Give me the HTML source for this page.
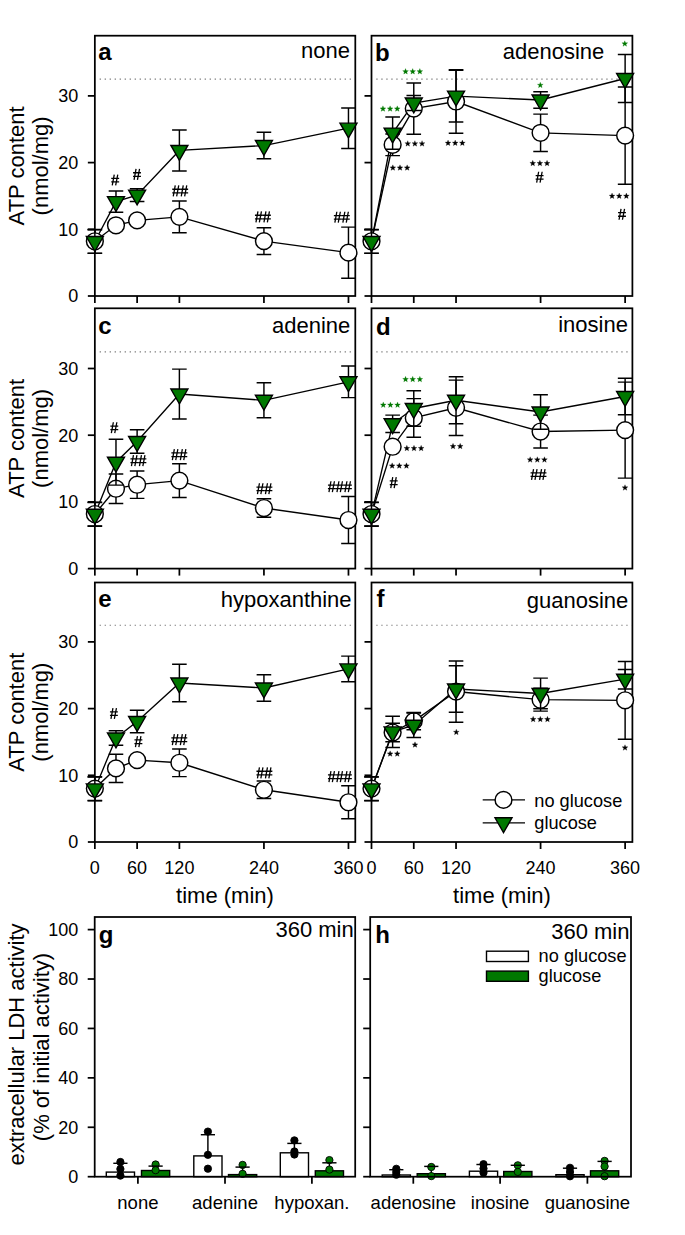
<!DOCTYPE html><html><head><meta charset="utf-8"><style>html,body{margin:0;padding:0;background:#fff;}svg{display:block;}text{font-family:"Liberation Sans", sans-serif;}</style></head><body>
<svg width="685" height="1235" viewBox="0 0 685 1235">
<rect width="685" height="1235" fill="#fff"/>
<line x1="99.65" y1="79.22" x2="354.30" y2="79.22" stroke="#7a7a7a" stroke-width="1.2" stroke-dasharray="1.3 3.7"/>
<rect x="94.85" y="35.70" width="260.45" height="260.30" fill="none" stroke="#000" stroke-width="1.75"/>
<line x1="87.85" y1="296.00" x2="94.85" y2="296.00" stroke="#000" stroke-width="1.75"/>
<text x="78.35" y="302.30" font-size="18" text-anchor="end" font-weight="normal" fill="#000" >0</text>
<line x1="87.85" y1="229.30" x2="94.85" y2="229.30" stroke="#000" stroke-width="1.75"/>
<text x="78.35" y="235.60" font-size="18" text-anchor="end" font-weight="normal" fill="#000" >10</text>
<line x1="87.85" y1="162.60" x2="94.85" y2="162.60" stroke="#000" stroke-width="1.75"/>
<text x="78.35" y="168.90" font-size="18" text-anchor="end" font-weight="normal" fill="#000" >20</text>
<line x1="87.85" y1="95.90" x2="94.85" y2="95.90" stroke="#000" stroke-width="1.75"/>
<text x="78.35" y="102.20" font-size="18" text-anchor="end" font-weight="normal" fill="#000" >30</text>
<line x1="94.85" y1="296.00" x2="94.85" y2="303.00" stroke="#000" stroke-width="1.75"/>
<line x1="137.12" y1="296.00" x2="137.12" y2="303.00" stroke="#000" stroke-width="1.75"/>
<line x1="179.39" y1="296.00" x2="179.39" y2="303.00" stroke="#000" stroke-width="1.75"/>
<line x1="263.93" y1="296.00" x2="263.93" y2="303.00" stroke="#000" stroke-width="1.75"/>
<line x1="348.47" y1="296.00" x2="348.47" y2="303.00" stroke="#000" stroke-width="1.75"/>
<path d="M94.85 241.25 L115.98 225.30 L137.12 220.40 L179.39 216.85 L263.93 241.10 L348.47 252.65" stroke="#000" stroke-width="1.35" fill="none"/>
<path d="M94.85 241.50 L115.98 201.65 L137.12 195.10 L179.39 150.45 L263.93 145.55 L348.47 128.15" stroke="#000" stroke-width="1.35" fill="none"/>
<path d="M94.85 229.40V253.10M87.55 229.40H102.15M87.55 253.10H102.15" stroke="#000" stroke-width="1.45" fill="none"/>
<path d="M179.39 200.90V232.80M172.09 200.90H186.69M172.09 232.80H186.69" stroke="#000" stroke-width="1.45" fill="none"/>
<path d="M263.93 227.80V254.40M256.63 227.80H271.23M256.63 254.40H271.23" stroke="#000" stroke-width="1.45" fill="none"/>
<path d="M348.47 227.10V278.20M341.17 227.10H355.77M341.17 278.20H355.77" stroke="#000" stroke-width="1.45" fill="none"/>
<circle cx="94.85" cy="241.25" r="8.4" fill="#fff" stroke="#000" stroke-width="1.45"/>
<circle cx="115.98" cy="225.30" r="8.4" fill="#fff" stroke="#000" stroke-width="1.45"/>
<circle cx="137.12" cy="220.40" r="8.4" fill="#fff" stroke="#000" stroke-width="1.45"/>
<circle cx="179.39" cy="216.85" r="8.4" fill="#fff" stroke="#000" stroke-width="1.45"/>
<circle cx="263.93" cy="241.10" r="8.4" fill="#fff" stroke="#000" stroke-width="1.45"/>
<circle cx="348.47" cy="252.65" r="8.4" fill="#fff" stroke="#000" stroke-width="1.45"/>
<path d="M94.85 229.65V253.35M87.55 229.65H102.15M87.55 253.35H102.15" stroke="#000" stroke-width="1.45" fill="none"/>
<path d="M115.98 191.00V212.30M108.69 191.00H123.28M108.69 212.30H123.28" stroke="#000" stroke-width="1.45" fill="none"/>
<path d="M137.12 188.80V201.40M129.82 188.80H144.42M129.82 201.40H144.42" stroke="#000" stroke-width="1.45" fill="none"/>
<path d="M179.39 130.00V170.90M172.09 130.00H186.69M172.09 170.90H186.69" stroke="#000" stroke-width="1.45" fill="none"/>
<path d="M263.93 132.30V158.80M256.63 132.30H271.23M256.63 158.80H271.23" stroke="#000" stroke-width="1.45" fill="none"/>
<path d="M348.47 107.90V148.40M341.17 107.90H355.77M341.17 148.40H355.77" stroke="#000" stroke-width="1.45" fill="none"/>
<path d="M86.35 236.50H103.35L94.85 251.30Z" fill="#007800" stroke="#000" stroke-width="1.4" stroke-linejoin="miter"/>
<path d="M107.48 196.65H124.48L115.98 211.45Z" fill="#007800" stroke="#000" stroke-width="1.4" stroke-linejoin="miter"/>
<path d="M128.62 190.10H145.62L137.12 204.90Z" fill="#007800" stroke="#000" stroke-width="1.4" stroke-linejoin="miter"/>
<path d="M170.89 145.45H187.89L179.39 160.25Z" fill="#007800" stroke="#000" stroke-width="1.4" stroke-linejoin="miter"/>
<path d="M255.43 140.55H272.43L263.93 155.35Z" fill="#007800" stroke="#000" stroke-width="1.4" stroke-linejoin="miter"/>
<path d="M339.97 123.15H356.97L348.47 137.95Z" fill="#007800" stroke="#000" stroke-width="1.4" stroke-linejoin="miter"/>
<text x="98.35" y="59.50" font-size="24" text-anchor="start" font-weight="bold" fill="#000" >a</text>
<text x="349.90" y="58.40" font-size="22" text-anchor="end" font-weight="normal" fill="#000" >none</text>
<path d="M111.25 178.35H119.15M111.25 181.95H119.15M114.25 174.55L112.25 185.45M117.75 174.55L115.65 185.45" stroke="#000" stroke-width="1.3" fill="none"/>
<path d="M133.05 172.75H140.95M133.05 176.35H140.95M136.05 168.95L134.05 179.85M139.55 168.95L137.45 179.85" stroke="#000" stroke-width="1.3" fill="none"/>
<path d="M172.25 189.25H180.15M172.25 192.85H180.15M175.25 185.45L173.25 196.35M178.75 185.45L176.65 196.35M180.25 189.25H188.15M180.25 192.85H188.15M183.25 185.45L181.25 196.35M186.75 185.45L184.65 196.35" stroke="#000" stroke-width="1.3" fill="none"/>
<path d="M254.95 215.25H262.85M254.95 218.85H262.85M257.95 211.45L255.95 222.35M261.45 211.45L259.35 222.35M262.95 215.25H270.85M262.95 218.85H270.85M265.95 211.45L263.95 222.35M269.45 211.45L267.35 222.35" stroke="#000" stroke-width="1.3" fill="none"/>
<path d="M333.85 215.55H341.75M333.85 219.15H341.75M336.85 211.75L334.85 222.65M340.35 211.75L338.25 222.65M341.85 215.55H349.75M341.85 219.15H349.75M344.85 211.75L342.85 222.65M348.35 211.75L346.25 222.65" stroke="#000" stroke-width="1.3" fill="none"/>
<line x1="376.30" y1="79.22" x2="631.40" y2="79.22" stroke="#7a7a7a" stroke-width="1.2" stroke-dasharray="1.3 3.7"/>
<rect x="371.50" y="35.70" width="260.90" height="260.30" fill="none" stroke="#000" stroke-width="1.75"/>
<line x1="364.50" y1="296.00" x2="371.50" y2="296.00" stroke="#000" stroke-width="1.75"/>
<line x1="364.50" y1="229.30" x2="371.50" y2="229.30" stroke="#000" stroke-width="1.75"/>
<line x1="364.50" y1="162.60" x2="371.50" y2="162.60" stroke="#000" stroke-width="1.75"/>
<line x1="364.50" y1="95.90" x2="371.50" y2="95.90" stroke="#000" stroke-width="1.75"/>
<line x1="371.50" y1="296.00" x2="371.50" y2="303.00" stroke="#000" stroke-width="1.75"/>
<line x1="413.77" y1="296.00" x2="413.77" y2="303.00" stroke="#000" stroke-width="1.75"/>
<line x1="456.04" y1="296.00" x2="456.04" y2="303.00" stroke="#000" stroke-width="1.75"/>
<line x1="540.58" y1="296.00" x2="540.58" y2="303.00" stroke="#000" stroke-width="1.75"/>
<line x1="625.12" y1="296.00" x2="625.12" y2="303.00" stroke="#000" stroke-width="1.75"/>
<path d="M371.50 241.25 L392.63 144.80 L413.77 108.60 L456.04 101.50 L540.58 132.80 L625.12 135.60" stroke="#000" stroke-width="1.35" fill="none"/>
<path d="M371.50 241.50 L392.63 133.10 L413.77 103.00 L456.04 96.10 L540.58 100.00 L625.12 78.50" stroke="#000" stroke-width="1.35" fill="none"/>
<path d="M371.50 229.40V253.10M364.20 229.40H378.80M364.20 253.10H378.80" stroke="#000" stroke-width="1.45" fill="none"/>
<path d="M392.63 134.00V155.60M385.33 134.00H399.94M385.33 155.60H399.94" stroke="#000" stroke-width="1.45" fill="none"/>
<path d="M413.77 83.00V134.20M406.47 83.00H421.07M406.47 134.20H421.07" stroke="#000" stroke-width="1.45" fill="none"/>
<path d="M456.04 69.70V133.30M448.74 69.70H463.34M448.74 133.30H463.34" stroke="#000" stroke-width="1.45" fill="none"/>
<path d="M540.58 114.10V151.50M533.28 114.10H547.88M533.28 151.50H547.88" stroke="#000" stroke-width="1.45" fill="none"/>
<path d="M625.12 87.00V184.20M617.82 87.00H632.42M617.82 184.20H632.42" stroke="#000" stroke-width="1.45" fill="none"/>
<circle cx="371.50" cy="241.25" r="8.4" fill="#fff" stroke="#000" stroke-width="1.45"/>
<circle cx="392.63" cy="144.80" r="8.4" fill="#fff" stroke="#000" stroke-width="1.45"/>
<circle cx="413.77" cy="108.60" r="8.4" fill="#fff" stroke="#000" stroke-width="1.45"/>
<circle cx="456.04" cy="101.50" r="8.4" fill="#fff" stroke="#000" stroke-width="1.45"/>
<circle cx="540.58" cy="132.80" r="8.4" fill="#fff" stroke="#000" stroke-width="1.45"/>
<circle cx="625.12" cy="135.60" r="8.4" fill="#fff" stroke="#000" stroke-width="1.45"/>
<path d="M371.50 229.65V253.35M364.20 229.65H378.80M364.20 253.35H378.80" stroke="#000" stroke-width="1.45" fill="none"/>
<path d="M392.63 117.00V149.20M385.33 117.00H399.94M385.33 149.20H399.94" stroke="#000" stroke-width="1.45" fill="none"/>
<path d="M413.77 95.50V110.50M406.47 95.50H421.07M406.47 110.50H421.07" stroke="#000" stroke-width="1.45" fill="none"/>
<path d="M456.04 70.30V121.90M448.74 70.30H463.34M448.74 121.90H463.34" stroke="#000" stroke-width="1.45" fill="none"/>
<path d="M540.58 91.80V108.20M533.28 91.80H547.88M533.28 108.20H547.88" stroke="#000" stroke-width="1.45" fill="none"/>
<path d="M625.12 54.50V102.50M617.82 54.50H632.42M617.82 102.50H632.42" stroke="#000" stroke-width="1.45" fill="none"/>
<path d="M363.00 236.50H380.00L371.50 251.30Z" fill="#007800" stroke="#000" stroke-width="1.4" stroke-linejoin="miter"/>
<path d="M384.13 128.10H401.13L392.63 142.90Z" fill="#007800" stroke="#000" stroke-width="1.4" stroke-linejoin="miter"/>
<path d="M405.27 98.00H422.27L413.77 112.80Z" fill="#007800" stroke="#000" stroke-width="1.4" stroke-linejoin="miter"/>
<path d="M447.54 91.10H464.54L456.04 105.90Z" fill="#007800" stroke="#000" stroke-width="1.4" stroke-linejoin="miter"/>
<path d="M532.08 95.00H549.08L540.58 109.80Z" fill="#007800" stroke="#000" stroke-width="1.4" stroke-linejoin="miter"/>
<path d="M616.62 73.50H633.62L625.12 88.30Z" fill="#007800" stroke="#000" stroke-width="1.4" stroke-linejoin="miter"/>
<text x="375.00" y="61.20" font-size="24" text-anchor="start" font-weight="bold" fill="#000" >b</text>
<text x="604.30" y="58.50" font-size="22" text-anchor="end" font-weight="normal" fill="#000" >adenosine</text>
<path d="M382.95 105.85L383.71 107.85L385.85 107.96L384.19 109.30L384.74 111.37L382.95 110.20L381.16 111.37L381.71 109.30L380.05 107.96L382.19 107.85ZM390.10 105.85L390.86 107.85L393.00 107.96L391.34 109.30L391.89 111.37L390.10 110.20L388.31 111.37L388.86 109.30L387.20 107.96L389.34 107.85ZM397.25 105.85L398.01 107.85L400.15 107.96L398.49 109.30L399.04 111.37L397.25 110.20L395.46 111.37L396.01 109.30L394.35 107.96L396.49 107.85Z" fill="#007800" stroke="#007800" stroke-width="0.25" stroke-linejoin="round"/>
<path d="M392.85 164.85L393.61 166.85L395.75 166.96L394.09 168.30L394.64 170.37L392.85 169.20L391.06 170.37L391.61 168.30L389.95 166.96L392.09 166.85ZM400.00 164.85L400.76 166.85L402.90 166.96L401.24 168.30L401.79 170.37L400.00 169.20L398.21 170.37L398.76 168.30L397.10 166.96L399.24 166.85ZM407.15 164.85L407.91 166.85L410.05 166.96L408.39 168.30L408.94 170.37L407.15 169.20L405.36 170.37L405.91 168.30L404.25 166.96L406.39 166.85Z" fill="#000" stroke="#000" stroke-width="0.25" stroke-linejoin="round"/>
<path d="M405.55 68.55L406.31 70.55L408.45 70.66L406.79 72.00L407.34 74.07L405.55 72.90L403.76 74.07L404.31 72.00L402.65 70.66L404.79 70.55ZM412.70 68.55L413.46 70.55L415.60 70.66L413.94 72.00L414.49 74.07L412.70 72.90L410.91 74.07L411.46 72.00L409.80 70.66L411.94 70.55ZM419.85 68.55L420.61 70.55L422.75 70.66L421.09 72.00L421.64 74.07L419.85 72.90L418.06 74.07L418.61 72.00L416.95 70.66L419.09 70.55Z" fill="#007800" stroke="#007800" stroke-width="0.25" stroke-linejoin="round"/>
<path d="M407.75 140.65L408.51 142.65L410.65 142.76L408.99 144.10L409.54 146.17L407.75 145.00L405.96 146.17L406.51 144.10L404.85 142.76L406.99 142.65ZM414.90 140.65L415.66 142.65L417.80 142.76L416.14 144.10L416.69 146.17L414.90 145.00L413.11 146.17L413.66 144.10L412.00 142.76L414.14 142.65ZM422.05 140.65L422.81 142.65L424.95 142.76L423.29 144.10L423.84 146.17L422.05 145.00L420.26 146.17L420.81 144.10L419.15 142.76L421.29 142.65Z" fill="#000" stroke="#000" stroke-width="0.25" stroke-linejoin="round"/>
<path d="M448.05 140.05L448.81 142.05L450.95 142.16L449.29 143.50L449.84 145.57L448.05 144.40L446.26 145.57L446.81 143.50L445.15 142.16L447.29 142.05ZM455.20 140.05L455.96 142.05L458.10 142.16L456.44 143.50L456.99 145.57L455.20 144.40L453.41 145.57L453.96 143.50L452.30 142.16L454.44 142.05ZM462.35 140.05L463.11 142.05L465.25 142.16L463.59 143.50L464.14 145.57L462.35 144.40L460.56 145.57L461.11 143.50L459.45 142.16L461.59 142.05Z" fill="#000" stroke="#000" stroke-width="0.25" stroke-linejoin="round"/>
<path d="M540.30 82.15L541.06 84.15L543.20 84.26L541.54 85.60L542.09 87.67L540.30 86.50L538.51 87.67L539.06 85.60L537.40 84.26L539.54 84.15Z" fill="#007800" stroke="#007800" stroke-width="0.25" stroke-linejoin="round"/>
<path d="M532.75 160.35L533.51 162.35L535.65 162.46L533.99 163.80L534.54 165.87L532.75 164.70L530.96 165.87L531.51 163.80L529.85 162.46L531.99 162.35ZM539.90 160.35L540.66 162.35L542.80 162.46L541.14 163.80L541.69 165.87L539.90 164.70L538.11 165.87L538.66 163.80L537.00 162.46L539.14 162.35ZM547.05 160.35L547.81 162.35L549.95 162.46L548.29 163.80L548.84 165.87L547.05 164.70L545.26 165.87L545.81 163.80L544.15 162.46L546.29 162.35Z" fill="#000" stroke="#000" stroke-width="0.25" stroke-linejoin="round"/>
<path d="M535.65 175.55H543.55M535.65 179.15H543.55M538.65 171.75L536.65 182.65M542.15 171.75L540.05 182.65" stroke="#000" stroke-width="1.3" fill="none"/>
<path d="M624.80 40.75L625.56 42.75L627.70 42.86L626.04 44.20L626.59 46.27L624.80 45.10L623.01 46.27L623.56 44.20L621.90 42.86L624.04 42.75Z" fill="#007800" stroke="#007800" stroke-width="0.25" stroke-linejoin="round"/>
<path d="M612.05 193.05L612.81 195.05L614.95 195.16L613.29 196.50L613.84 198.57L612.05 197.40L610.26 198.57L610.81 196.50L609.15 195.16L611.29 195.05ZM619.20 193.05L619.96 195.05L622.10 195.16L620.44 196.50L620.99 198.57L619.20 197.40L617.41 198.57L617.96 196.50L616.30 195.16L618.44 195.05ZM626.35 193.05L627.11 195.05L629.25 195.16L627.59 196.50L628.14 198.57L626.35 197.40L624.56 198.57L625.11 196.50L623.45 195.16L625.59 195.05Z" fill="#000" stroke="#000" stroke-width="0.25" stroke-linejoin="round"/>
<path d="M618.05 212.65H625.95M618.05 216.25H625.95M621.05 208.85L619.05 219.75M624.55 208.85L622.45 219.75" stroke="#000" stroke-width="1.3" fill="none"/>
<line x1="99.65" y1="351.83" x2="354.30" y2="351.83" stroke="#7a7a7a" stroke-width="1.2" stroke-dasharray="1.3 3.7"/>
<rect x="94.85" y="308.30" width="260.45" height="260.30" fill="none" stroke="#000" stroke-width="1.75"/>
<line x1="87.85" y1="568.60" x2="94.85" y2="568.60" stroke="#000" stroke-width="1.75"/>
<text x="78.35" y="574.90" font-size="18" text-anchor="end" font-weight="normal" fill="#000" >0</text>
<line x1="87.85" y1="501.90" x2="94.85" y2="501.90" stroke="#000" stroke-width="1.75"/>
<text x="78.35" y="508.20" font-size="18" text-anchor="end" font-weight="normal" fill="#000" >10</text>
<line x1="87.85" y1="435.20" x2="94.85" y2="435.20" stroke="#000" stroke-width="1.75"/>
<text x="78.35" y="441.50" font-size="18" text-anchor="end" font-weight="normal" fill="#000" >20</text>
<line x1="87.85" y1="368.50" x2="94.85" y2="368.50" stroke="#000" stroke-width="1.75"/>
<text x="78.35" y="374.80" font-size="18" text-anchor="end" font-weight="normal" fill="#000" >30</text>
<line x1="94.85" y1="568.60" x2="94.85" y2="575.60" stroke="#000" stroke-width="1.75"/>
<line x1="137.12" y1="568.60" x2="137.12" y2="575.60" stroke="#000" stroke-width="1.75"/>
<line x1="179.39" y1="568.60" x2="179.39" y2="575.60" stroke="#000" stroke-width="1.75"/>
<line x1="263.93" y1="568.60" x2="263.93" y2="575.60" stroke="#000" stroke-width="1.75"/>
<line x1="348.47" y1="568.60" x2="348.47" y2="575.60" stroke="#000" stroke-width="1.75"/>
<path d="M94.85 514.00 L115.98 488.70 L137.12 484.70 L179.39 480.60 L263.93 508.00 L348.47 520.00" stroke="#000" stroke-width="1.35" fill="none"/>
<path d="M94.85 514.30 L115.98 462.20 L137.12 441.50 L179.39 394.00 L263.93 400.30 L348.47 381.80" stroke="#000" stroke-width="1.35" fill="none"/>
<path d="M94.85 502.15V525.85M87.55 502.15H102.15M87.55 525.85H102.15" stroke="#000" stroke-width="1.45" fill="none"/>
<path d="M115.98 474.00V503.40M108.69 474.00H123.28M108.69 503.40H123.28" stroke="#000" stroke-width="1.45" fill="none"/>
<path d="M137.12 471.05V498.35M129.82 471.05H144.42M129.82 498.35H144.42" stroke="#000" stroke-width="1.45" fill="none"/>
<path d="M179.39 463.75V497.45M172.09 463.75H186.69M172.09 497.45H186.69" stroke="#000" stroke-width="1.45" fill="none"/>
<path d="M263.93 498.75V517.25M256.63 498.75H271.23M256.63 517.25H271.23" stroke="#000" stroke-width="1.45" fill="none"/>
<path d="M348.47 496.50V543.50M341.17 496.50H355.77M341.17 543.50H355.77" stroke="#000" stroke-width="1.45" fill="none"/>
<circle cx="94.85" cy="514.00" r="8.4" fill="#fff" stroke="#000" stroke-width="1.45"/>
<circle cx="115.98" cy="488.70" r="8.4" fill="#fff" stroke="#000" stroke-width="1.45"/>
<circle cx="137.12" cy="484.70" r="8.4" fill="#fff" stroke="#000" stroke-width="1.45"/>
<circle cx="179.39" cy="480.60" r="8.4" fill="#fff" stroke="#000" stroke-width="1.45"/>
<circle cx="263.93" cy="508.00" r="8.4" fill="#fff" stroke="#000" stroke-width="1.45"/>
<circle cx="348.47" cy="520.00" r="8.4" fill="#fff" stroke="#000" stroke-width="1.45"/>
<path d="M94.85 502.45V526.15M87.55 502.45H102.15M87.55 526.15H102.15" stroke="#000" stroke-width="1.45" fill="none"/>
<path d="M115.98 439.30V485.10M108.69 439.30H123.28M108.69 485.10H123.28" stroke="#000" stroke-width="1.45" fill="none"/>
<path d="M137.12 429.70V453.30M129.82 429.70H144.42M129.82 453.30H144.42" stroke="#000" stroke-width="1.45" fill="none"/>
<path d="M179.39 369.10V418.90M172.09 369.10H186.69M172.09 418.90H186.69" stroke="#000" stroke-width="1.45" fill="none"/>
<path d="M263.93 382.80V417.80M256.63 382.80H271.23M256.63 417.80H271.23" stroke="#000" stroke-width="1.45" fill="none"/>
<path d="M348.47 366.00V397.60M341.17 366.00H355.77M341.17 397.60H355.77" stroke="#000" stroke-width="1.45" fill="none"/>
<path d="M86.35 509.30H103.35L94.85 524.10Z" fill="#007800" stroke="#000" stroke-width="1.4" stroke-linejoin="miter"/>
<path d="M107.48 457.20H124.48L115.98 472.00Z" fill="#007800" stroke="#000" stroke-width="1.4" stroke-linejoin="miter"/>
<path d="M128.62 436.50H145.62L137.12 451.30Z" fill="#007800" stroke="#000" stroke-width="1.4" stroke-linejoin="miter"/>
<path d="M170.89 389.00H187.89L179.39 403.80Z" fill="#007800" stroke="#000" stroke-width="1.4" stroke-linejoin="miter"/>
<path d="M255.43 395.30H272.43L263.93 410.10Z" fill="#007800" stroke="#000" stroke-width="1.4" stroke-linejoin="miter"/>
<path d="M339.97 376.80H356.97L348.47 391.60Z" fill="#007800" stroke="#000" stroke-width="1.4" stroke-linejoin="miter"/>
<text x="98.35" y="334.00" font-size="24" text-anchor="start" font-weight="bold" fill="#000" >c</text>
<text x="350.30" y="333.40" font-size="22" text-anchor="end" font-weight="normal" fill="#000" >adenine</text>
<path d="M110.35 426.05H118.25M110.35 429.65H118.25M113.35 422.25L111.35 433.15M116.85 422.25L114.75 433.15" stroke="#000" stroke-width="1.3" fill="none"/>
<path d="M130.45 458.95H138.35M130.45 462.55H138.35M133.45 455.15L131.45 466.05M136.95 455.15L134.85 466.05M138.45 458.95H146.35M138.45 462.55H146.35M141.45 455.15L139.45 466.05M144.95 455.15L142.85 466.05" stroke="#000" stroke-width="1.3" fill="none"/>
<path d="M171.35 452.95H179.25M171.35 456.55H179.25M174.35 449.15L172.35 460.05M177.85 449.15L175.75 460.05M179.35 452.95H187.25M179.35 456.55H187.25M182.35 449.15L180.35 460.05M185.85 449.15L183.75 460.05" stroke="#000" stroke-width="1.3" fill="none"/>
<path d="M256.45 487.05H264.35M256.45 490.65H264.35M259.45 483.25L257.45 494.15M262.95 483.25L260.85 494.15M264.45 487.05H272.35M264.45 490.65H272.35M267.45 483.25L265.45 494.15M270.95 483.25L268.85 494.15" stroke="#000" stroke-width="1.3" fill="none"/>
<path d="M327.95 485.05H335.85M327.95 488.65H335.85M330.95 481.25L328.95 492.15M334.45 481.25L332.35 492.15M335.95 485.05H343.85M335.95 488.65H343.85M338.95 481.25L336.95 492.15M342.45 481.25L340.35 492.15M343.95 485.05H351.85M343.95 488.65H351.85M346.95 481.25L344.95 492.15M350.45 481.25L348.35 492.15" stroke="#000" stroke-width="1.3" fill="none"/>
<line x1="376.30" y1="351.83" x2="631.40" y2="351.83" stroke="#7a7a7a" stroke-width="1.2" stroke-dasharray="1.3 3.7"/>
<rect x="371.50" y="308.30" width="260.90" height="260.30" fill="none" stroke="#000" stroke-width="1.75"/>
<line x1="364.50" y1="568.60" x2="371.50" y2="568.60" stroke="#000" stroke-width="1.75"/>
<line x1="364.50" y1="501.90" x2="371.50" y2="501.90" stroke="#000" stroke-width="1.75"/>
<line x1="364.50" y1="435.20" x2="371.50" y2="435.20" stroke="#000" stroke-width="1.75"/>
<line x1="364.50" y1="368.50" x2="371.50" y2="368.50" stroke="#000" stroke-width="1.75"/>
<line x1="371.50" y1="568.60" x2="371.50" y2="575.60" stroke="#000" stroke-width="1.75"/>
<line x1="413.77" y1="568.60" x2="413.77" y2="575.60" stroke="#000" stroke-width="1.75"/>
<line x1="456.04" y1="568.60" x2="456.04" y2="575.60" stroke="#000" stroke-width="1.75"/>
<line x1="540.58" y1="568.60" x2="540.58" y2="575.60" stroke="#000" stroke-width="1.75"/>
<line x1="625.12" y1="568.60" x2="625.12" y2="575.60" stroke="#000" stroke-width="1.75"/>
<path d="M371.50 514.00 L392.63 446.70 L413.77 417.90 L456.04 407.80 L540.58 431.50 L625.12 430.10" stroke="#000" stroke-width="1.35" fill="none"/>
<path d="M371.50 514.30 L392.63 423.80 L413.77 408.50 L456.04 400.30 L540.58 412.00 L625.12 396.50" stroke="#000" stroke-width="1.35" fill="none"/>
<path d="M371.50 502.15V525.85M364.20 502.15H378.80M364.20 525.85H378.80" stroke="#000" stroke-width="1.45" fill="none"/>
<path d="M413.77 398.60V437.20M406.47 398.60H421.07M406.47 437.20H421.07" stroke="#000" stroke-width="1.45" fill="none"/>
<path d="M456.04 380.10V435.50M448.74 380.10H463.34M448.74 435.50H463.34" stroke="#000" stroke-width="1.45" fill="none"/>
<path d="M540.58 415.10V447.90M533.28 415.10H547.88M533.28 447.90H547.88" stroke="#000" stroke-width="1.45" fill="none"/>
<path d="M625.12 382.10V478.10M617.82 382.10H632.42M617.82 478.10H632.42" stroke="#000" stroke-width="1.45" fill="none"/>
<circle cx="371.50" cy="514.00" r="8.4" fill="#fff" stroke="#000" stroke-width="1.45"/>
<circle cx="392.63" cy="446.70" r="8.4" fill="#fff" stroke="#000" stroke-width="1.45"/>
<circle cx="413.77" cy="417.90" r="8.4" fill="#fff" stroke="#000" stroke-width="1.45"/>
<circle cx="456.04" cy="407.80" r="8.4" fill="#fff" stroke="#000" stroke-width="1.45"/>
<circle cx="540.58" cy="431.50" r="8.4" fill="#fff" stroke="#000" stroke-width="1.45"/>
<circle cx="625.12" cy="430.10" r="8.4" fill="#fff" stroke="#000" stroke-width="1.45"/>
<path d="M371.50 502.45V526.15M364.20 502.45H378.80M364.20 526.15H378.80" stroke="#000" stroke-width="1.45" fill="none"/>
<path d="M392.63 415.10V432.50M385.33 415.10H399.94M385.33 432.50H399.94" stroke="#000" stroke-width="1.45" fill="none"/>
<path d="M413.77 390.70V426.30M406.47 390.70H421.07M406.47 426.30H421.07" stroke="#000" stroke-width="1.45" fill="none"/>
<path d="M456.04 376.80V423.80M448.74 376.80H463.34M448.74 423.80H463.34" stroke="#000" stroke-width="1.45" fill="none"/>
<path d="M540.58 394.70V429.30M533.28 394.70H547.88M533.28 429.30H547.88" stroke="#000" stroke-width="1.45" fill="none"/>
<path d="M625.12 378.20V414.80M617.82 378.20H632.42M617.82 414.80H632.42" stroke="#000" stroke-width="1.45" fill="none"/>
<path d="M363.00 509.30H380.00L371.50 524.10Z" fill="#007800" stroke="#000" stroke-width="1.4" stroke-linejoin="miter"/>
<path d="M384.13 418.80H401.13L392.63 433.60Z" fill="#007800" stroke="#000" stroke-width="1.4" stroke-linejoin="miter"/>
<path d="M405.27 403.50H422.27L413.77 418.30Z" fill="#007800" stroke="#000" stroke-width="1.4" stroke-linejoin="miter"/>
<path d="M447.54 395.30H464.54L456.04 410.10Z" fill="#007800" stroke="#000" stroke-width="1.4" stroke-linejoin="miter"/>
<path d="M532.08 407.00H549.08L540.58 421.80Z" fill="#007800" stroke="#000" stroke-width="1.4" stroke-linejoin="miter"/>
<path d="M616.62 391.50H633.62L625.12 406.30Z" fill="#007800" stroke="#000" stroke-width="1.4" stroke-linejoin="miter"/>
<text x="376.00" y="335.00" font-size="24" text-anchor="start" font-weight="bold" fill="#000" >d</text>
<text x="627.90" y="331.90" font-size="22" text-anchor="end" font-weight="normal" fill="#000" >inosine</text>
<path d="M383.25 401.95L384.01 403.95L386.15 404.06L384.49 405.40L385.04 407.47L383.25 406.30L381.46 407.47L382.01 405.40L380.35 404.06L382.49 403.95ZM390.40 401.95L391.16 403.95L393.30 404.06L391.64 405.40L392.19 407.47L390.40 406.30L388.61 407.47L389.16 405.40L387.50 404.06L389.64 403.95ZM397.55 401.95L398.31 403.95L400.45 404.06L398.79 405.40L399.34 407.47L397.55 406.30L395.76 407.47L396.31 405.40L394.65 404.06L396.79 403.95Z" fill="#007800" stroke="#007800" stroke-width="0.25" stroke-linejoin="round"/>
<path d="M405.55 376.35L406.31 378.35L408.45 378.46L406.79 379.80L407.34 381.87L405.55 380.70L403.76 381.87L404.31 379.80L402.65 378.46L404.79 378.35ZM412.70 376.35L413.46 378.35L415.60 378.46L413.94 379.80L414.49 381.87L412.70 380.70L410.91 381.87L411.46 379.80L409.80 378.46L411.94 378.35ZM419.85 376.35L420.61 378.35L422.75 378.46L421.09 379.80L421.64 381.87L419.85 380.70L418.06 381.87L418.61 379.80L416.95 378.46L419.09 378.35Z" fill="#007800" stroke="#007800" stroke-width="0.25" stroke-linejoin="round"/>
<path d="M406.85 445.35L407.61 447.35L409.75 447.46L408.09 448.80L408.64 450.87L406.85 449.70L405.06 450.87L405.61 448.80L403.95 447.46L406.09 447.35ZM414.00 445.35L414.76 447.35L416.90 447.46L415.24 448.80L415.79 450.87L414.00 449.70L412.21 450.87L412.76 448.80L411.10 447.46L413.24 447.35ZM421.15 445.35L421.91 447.35L424.05 447.46L422.39 448.80L422.94 450.87L421.15 449.70L419.36 450.87L419.91 448.80L418.25 447.46L420.39 447.35Z" fill="#000" stroke="#000" stroke-width="0.25" stroke-linejoin="round"/>
<path d="M392.15 462.85L392.91 464.85L395.05 464.96L393.39 466.30L393.94 468.37L392.15 467.20L390.36 468.37L390.91 466.30L389.25 464.96L391.39 464.85ZM399.30 462.85L400.06 464.85L402.20 464.96L400.54 466.30L401.09 468.37L399.30 467.20L397.51 468.37L398.06 466.30L396.40 464.96L398.54 464.85ZM406.45 462.85L407.21 464.85L409.35 464.96L407.69 466.30L408.24 468.37L406.45 467.20L404.66 468.37L405.21 466.30L403.55 464.96L405.69 464.85Z" fill="#000" stroke="#000" stroke-width="0.25" stroke-linejoin="round"/>
<path d="M389.75 480.95H397.65M389.75 484.55H397.65M392.75 477.15L390.75 488.05M396.25 477.15L394.15 488.05" stroke="#000" stroke-width="1.3" fill="none"/>
<path d="M453.03 443.35L453.79 445.35L455.93 445.46L454.26 446.80L454.82 448.87L453.03 447.70L451.23 448.87L451.79 446.80L450.12 445.46L452.26 445.35ZM460.18 443.35L460.94 445.35L463.08 445.46L461.41 446.80L461.97 448.87L460.18 447.70L458.38 448.87L458.94 446.80L457.27 445.46L459.41 445.35Z" fill="#000" stroke="#000" stroke-width="0.25" stroke-linejoin="round"/>
<path d="M530.15 456.75L530.91 458.75L533.05 458.86L531.39 460.20L531.94 462.27L530.15 461.10L528.36 462.27L528.91 460.20L527.25 458.86L529.39 458.75ZM537.30 456.75L538.06 458.75L540.20 458.86L538.54 460.20L539.09 462.27L537.30 461.10L535.51 462.27L536.06 460.20L534.40 458.86L536.54 458.75ZM544.45 456.75L545.21 458.75L547.35 458.86L545.69 460.20L546.24 462.27L544.45 461.10L542.66 462.27L543.21 460.20L541.55 458.86L543.69 458.75Z" fill="#000" stroke="#000" stroke-width="0.25" stroke-linejoin="round"/>
<path d="M530.55 472.85H538.45M530.55 476.45H538.45M533.55 469.05L531.55 479.95M537.05 469.05L534.95 479.95M538.55 472.85H546.45M538.55 476.45H546.45M541.55 469.05L539.55 479.95M545.05 469.05L542.95 479.95" stroke="#000" stroke-width="1.3" fill="none"/>
<path d="M625.00 484.75L625.76 486.75L627.90 486.86L626.24 488.20L626.79 490.27L625.00 489.10L623.21 490.27L623.76 488.20L622.10 486.86L624.24 486.75Z" fill="#000" stroke="#000" stroke-width="0.25" stroke-linejoin="round"/>
<line x1="99.65" y1="625.23" x2="354.30" y2="625.23" stroke="#7a7a7a" stroke-width="1.2" stroke-dasharray="1.3 3.7"/>
<rect x="94.85" y="582.50" width="260.45" height="259.50" fill="none" stroke="#000" stroke-width="1.75"/>
<line x1="87.85" y1="842.00" x2="94.85" y2="842.00" stroke="#000" stroke-width="1.75"/>
<text x="78.35" y="848.30" font-size="18" text-anchor="end" font-weight="normal" fill="#000" >0</text>
<line x1="87.85" y1="775.30" x2="94.85" y2="775.30" stroke="#000" stroke-width="1.75"/>
<text x="78.35" y="781.60" font-size="18" text-anchor="end" font-weight="normal" fill="#000" >10</text>
<line x1="87.85" y1="708.60" x2="94.85" y2="708.60" stroke="#000" stroke-width="1.75"/>
<text x="78.35" y="714.90" font-size="18" text-anchor="end" font-weight="normal" fill="#000" >20</text>
<line x1="87.85" y1="641.90" x2="94.85" y2="641.90" stroke="#000" stroke-width="1.75"/>
<text x="78.35" y="648.20" font-size="18" text-anchor="end" font-weight="normal" fill="#000" >30</text>
<line x1="94.85" y1="842.00" x2="94.85" y2="849.00" stroke="#000" stroke-width="1.75"/>
<text x="94.85" y="873.80" font-size="18" text-anchor="middle" font-weight="normal" fill="#000" >0</text>
<line x1="137.12" y1="842.00" x2="137.12" y2="849.00" stroke="#000" stroke-width="1.75"/>
<text x="137.12" y="873.80" font-size="18" text-anchor="middle" font-weight="normal" fill="#000" >60</text>
<line x1="179.39" y1="842.00" x2="179.39" y2="849.00" stroke="#000" stroke-width="1.75"/>
<text x="179.39" y="873.80" font-size="18" text-anchor="middle" font-weight="normal" fill="#000" >120</text>
<line x1="263.93" y1="842.00" x2="263.93" y2="849.00" stroke="#000" stroke-width="1.75"/>
<text x="263.93" y="873.80" font-size="18" text-anchor="middle" font-weight="normal" fill="#000" >240</text>
<line x1="348.47" y1="842.00" x2="348.47" y2="849.00" stroke="#000" stroke-width="1.75"/>
<text x="348.47" y="873.80" font-size="18" text-anchor="middle" font-weight="normal" fill="#000" >360</text>
<path d="M94.85 788.60 L115.98 768.40 L137.12 760.10 L179.39 762.75 L263.93 789.75 L348.47 802.25" stroke="#000" stroke-width="1.35" fill="none"/>
<path d="M94.85 788.90 L115.98 738.00 L137.12 721.50 L179.39 683.00 L263.93 688.00 L348.47 668.90" stroke="#000" stroke-width="1.35" fill="none"/>
<path d="M94.85 776.75V800.45M87.55 776.75H102.15M87.55 800.45H102.15" stroke="#000" stroke-width="1.45" fill="none"/>
<path d="M115.98 754.30V782.50M108.69 754.30H123.28M108.69 782.50H123.28" stroke="#000" stroke-width="1.45" fill="none"/>
<path d="M179.39 748.90V776.60M172.09 748.90H186.69M172.09 776.60H186.69" stroke="#000" stroke-width="1.45" fill="none"/>
<path d="M263.93 781.00V798.50M256.63 781.00H271.23M256.63 798.50H271.23" stroke="#000" stroke-width="1.45" fill="none"/>
<path d="M348.47 785.80V818.70M341.17 785.80H355.77M341.17 818.70H355.77" stroke="#000" stroke-width="1.45" fill="none"/>
<circle cx="94.85" cy="788.60" r="8.4" fill="#fff" stroke="#000" stroke-width="1.45"/>
<circle cx="115.98" cy="768.40" r="8.4" fill="#fff" stroke="#000" stroke-width="1.45"/>
<circle cx="137.12" cy="760.10" r="8.4" fill="#fff" stroke="#000" stroke-width="1.45"/>
<circle cx="179.39" cy="762.75" r="8.4" fill="#fff" stroke="#000" stroke-width="1.45"/>
<circle cx="263.93" cy="789.75" r="8.4" fill="#fff" stroke="#000" stroke-width="1.45"/>
<circle cx="348.47" cy="802.25" r="8.4" fill="#fff" stroke="#000" stroke-width="1.45"/>
<path d="M94.85 777.05V800.75M87.55 777.05H102.15M87.55 800.75H102.15" stroke="#000" stroke-width="1.45" fill="none"/>
<path d="M115.98 730.70V745.30M108.69 730.70H123.28M108.69 745.30H123.28" stroke="#000" stroke-width="1.45" fill="none"/>
<path d="M137.12 710.20V732.80M129.82 710.20H144.42M129.82 732.80H144.42" stroke="#000" stroke-width="1.45" fill="none"/>
<path d="M179.39 664.30V701.70M172.09 664.30H186.69M172.09 701.70H186.69" stroke="#000" stroke-width="1.45" fill="none"/>
<path d="M263.93 674.70V701.30M256.63 674.70H271.23M256.63 701.30H271.23" stroke="#000" stroke-width="1.45" fill="none"/>
<path d="M348.47 656.10V681.70M341.17 656.10H355.77M341.17 681.70H355.77" stroke="#000" stroke-width="1.45" fill="none"/>
<path d="M86.35 783.90H103.35L94.85 798.70Z" fill="#007800" stroke="#000" stroke-width="1.4" stroke-linejoin="miter"/>
<path d="M107.48 733.00H124.48L115.98 747.80Z" fill="#007800" stroke="#000" stroke-width="1.4" stroke-linejoin="miter"/>
<path d="M128.62 716.50H145.62L137.12 731.30Z" fill="#007800" stroke="#000" stroke-width="1.4" stroke-linejoin="miter"/>
<path d="M170.89 678.00H187.89L179.39 692.80Z" fill="#007800" stroke="#000" stroke-width="1.4" stroke-linejoin="miter"/>
<path d="M255.43 683.00H272.43L263.93 697.80Z" fill="#007800" stroke="#000" stroke-width="1.4" stroke-linejoin="miter"/>
<path d="M339.97 663.90H356.97L348.47 678.70Z" fill="#007800" stroke="#000" stroke-width="1.4" stroke-linejoin="miter"/>
<text x="98.35" y="607.00" font-size="24" text-anchor="start" font-weight="bold" fill="#000" >e</text>
<text x="351.60" y="607.40" font-size="22" text-anchor="end" font-weight="normal" fill="#000" >hypoxanthine</text>
<path d="M109.95 711.85H117.85M109.95 715.45H117.85M112.95 708.05L110.95 718.95M116.45 708.05L114.35 718.95" stroke="#000" stroke-width="1.3" fill="none"/>
<path d="M134.45 739.95H142.35M134.45 743.55H142.35M137.45 736.15L135.45 747.05M140.95 736.15L138.85 747.05" stroke="#000" stroke-width="1.3" fill="none"/>
<path d="M171.35 737.95H179.25M171.35 741.55H179.25M174.35 734.15L172.35 745.05M177.85 734.15L175.75 745.05M179.35 737.95H187.25M179.35 741.55H187.25M182.35 734.15L180.35 745.05M185.85 734.15L183.75 745.05" stroke="#000" stroke-width="1.3" fill="none"/>
<path d="M256.45 771.25H264.35M256.45 774.85H264.35M259.45 767.45L257.45 778.35M262.95 767.45L260.85 778.35M264.45 771.25H272.35M264.45 774.85H272.35M267.45 767.45L265.45 778.35M270.95 767.45L268.85 778.35" stroke="#000" stroke-width="1.3" fill="none"/>
<path d="M327.95 774.95H335.85M327.95 778.55H335.85M330.95 771.15L328.95 782.05M334.45 771.15L332.35 782.05M335.95 774.95H343.85M335.95 778.55H343.85M338.95 771.15L336.95 782.05M342.45 771.15L340.35 782.05M343.95 774.95H351.85M343.95 778.55H351.85M346.95 771.15L344.95 782.05M350.45 771.15L348.35 782.05" stroke="#000" stroke-width="1.3" fill="none"/>
<line x1="376.30" y1="625.23" x2="631.40" y2="625.23" stroke="#7a7a7a" stroke-width="1.2" stroke-dasharray="1.3 3.7"/>
<rect x="371.50" y="582.50" width="260.90" height="259.50" fill="none" stroke="#000" stroke-width="1.75"/>
<line x1="364.50" y1="842.00" x2="371.50" y2="842.00" stroke="#000" stroke-width="1.75"/>
<line x1="364.50" y1="775.30" x2="371.50" y2="775.30" stroke="#000" stroke-width="1.75"/>
<line x1="364.50" y1="708.60" x2="371.50" y2="708.60" stroke="#000" stroke-width="1.75"/>
<line x1="364.50" y1="641.90" x2="371.50" y2="641.90" stroke="#000" stroke-width="1.75"/>
<line x1="371.50" y1="842.00" x2="371.50" y2="849.00" stroke="#000" stroke-width="1.75"/>
<text x="371.50" y="873.80" font-size="18" text-anchor="middle" font-weight="normal" fill="#000" >0</text>
<line x1="413.77" y1="842.00" x2="413.77" y2="849.00" stroke="#000" stroke-width="1.75"/>
<text x="413.77" y="873.80" font-size="18" text-anchor="middle" font-weight="normal" fill="#000" >60</text>
<line x1="456.04" y1="842.00" x2="456.04" y2="849.00" stroke="#000" stroke-width="1.75"/>
<text x="456.04" y="873.80" font-size="18" text-anchor="middle" font-weight="normal" fill="#000" >120</text>
<line x1="540.58" y1="842.00" x2="540.58" y2="849.00" stroke="#000" stroke-width="1.75"/>
<text x="540.58" y="873.80" font-size="18" text-anchor="middle" font-weight="normal" fill="#000" >240</text>
<line x1="625.12" y1="842.00" x2="625.12" y2="849.00" stroke="#000" stroke-width="1.75"/>
<text x="625.12" y="873.80" font-size="18" text-anchor="middle" font-weight="normal" fill="#000" >360</text>
<path d="M371.50 788.60 L392.63 732.50 L413.77 721.10 L456.04 691.55 L540.58 699.70 L625.12 700.30" stroke="#000" stroke-width="1.35" fill="none"/>
<path d="M371.50 788.90 L392.63 731.90 L413.77 725.20 L456.04 689.05 L540.58 693.45 L625.12 679.20" stroke="#000" stroke-width="1.35" fill="none"/>
<path d="M371.50 776.75V800.45M364.20 776.75H378.80M364.20 800.45H378.80" stroke="#000" stroke-width="1.45" fill="none"/>
<path d="M392.63 723.30V741.70M385.33 723.30H399.94M385.33 741.70H399.94" stroke="#000" stroke-width="1.45" fill="none"/>
<path d="M413.77 712.50V729.70M406.47 712.50H421.07M406.47 729.70H421.07" stroke="#000" stroke-width="1.45" fill="none"/>
<path d="M456.04 660.90V722.20M448.74 660.90H463.34M448.74 722.20H463.34" stroke="#000" stroke-width="1.45" fill="none"/>
<path d="M540.58 688.30V711.10M533.28 688.30H547.88M533.28 711.10H547.88" stroke="#000" stroke-width="1.45" fill="none"/>
<path d="M625.12 661.40V739.20M617.82 661.40H632.42M617.82 739.20H632.42" stroke="#000" stroke-width="1.45" fill="none"/>
<circle cx="371.50" cy="788.60" r="8.4" fill="#fff" stroke="#000" stroke-width="1.45"/>
<circle cx="392.63" cy="732.50" r="8.4" fill="#fff" stroke="#000" stroke-width="1.45"/>
<circle cx="413.77" cy="721.10" r="8.4" fill="#fff" stroke="#000" stroke-width="1.45"/>
<circle cx="456.04" cy="691.55" r="8.4" fill="#fff" stroke="#000" stroke-width="1.45"/>
<circle cx="540.58" cy="699.70" r="8.4" fill="#fff" stroke="#000" stroke-width="1.45"/>
<circle cx="625.12" cy="700.30" r="8.4" fill="#fff" stroke="#000" stroke-width="1.45"/>
<path d="M371.50 777.05V800.75M364.20 777.05H378.80M364.20 800.75H378.80" stroke="#000" stroke-width="1.45" fill="none"/>
<path d="M392.63 716.30V747.50M385.33 716.30H399.94M385.33 747.50H399.94" stroke="#000" stroke-width="1.45" fill="none"/>
<path d="M413.77 713.00V737.40M406.47 713.00H421.07M406.47 737.40H421.07" stroke="#000" stroke-width="1.45" fill="none"/>
<path d="M456.04 665.80V712.30M448.74 665.80H463.34M448.74 712.30H463.34" stroke="#000" stroke-width="1.45" fill="none"/>
<path d="M540.58 678.10V708.80M533.28 678.10H547.88M533.28 708.80H547.88" stroke="#000" stroke-width="1.45" fill="none"/>
<path d="M625.12 669.50V688.90M617.82 669.50H632.42M617.82 688.90H632.42" stroke="#000" stroke-width="1.45" fill="none"/>
<path d="M363.00 783.90H380.00L371.50 798.70Z" fill="#007800" stroke="#000" stroke-width="1.4" stroke-linejoin="miter"/>
<path d="M384.13 726.90H401.13L392.63 741.70Z" fill="#007800" stroke="#000" stroke-width="1.4" stroke-linejoin="miter"/>
<path d="M405.27 720.20H422.27L413.77 735.00Z" fill="#007800" stroke="#000" stroke-width="1.4" stroke-linejoin="miter"/>
<path d="M447.54 684.05H464.54L456.04 698.85Z" fill="#007800" stroke="#000" stroke-width="1.4" stroke-linejoin="miter"/>
<path d="M532.08 688.45H549.08L540.58 703.25Z" fill="#007800" stroke="#000" stroke-width="1.4" stroke-linejoin="miter"/>
<path d="M616.62 674.20H633.62L625.12 689.00Z" fill="#007800" stroke="#000" stroke-width="1.4" stroke-linejoin="miter"/>
<text x="376.50" y="607.00" font-size="24" text-anchor="start" font-weight="bold" fill="#000" >f</text>
<text x="628.30" y="608.00" font-size="22" text-anchor="end" font-weight="normal" fill="#000" >guanosine</text>
<path d="M390.12 750.85L390.89 752.85L393.03 752.96L391.36 754.30L391.92 756.37L390.12 755.20L388.33 756.37L388.89 754.30L387.22 752.96L389.36 752.85ZM397.27 750.85L398.04 752.85L400.18 752.96L398.51 754.30L399.07 756.37L397.27 755.20L395.48 756.37L396.04 754.30L394.37 752.96L396.51 752.85Z" fill="#000" stroke="#000" stroke-width="0.25" stroke-linejoin="round"/>
<path d="M415.00 741.85L415.76 743.85L417.90 743.96L416.24 745.30L416.79 747.37L415.00 746.20L413.21 747.37L413.76 745.30L412.10 743.96L414.24 743.85Z" fill="#000" stroke="#000" stroke-width="0.25" stroke-linejoin="round"/>
<path d="M456.30 729.15L457.06 731.15L459.20 731.26L457.54 732.60L458.09 734.67L456.30 733.50L454.51 734.67L455.06 732.60L453.40 731.26L455.54 731.15Z" fill="#000" stroke="#000" stroke-width="0.25" stroke-linejoin="round"/>
<path d="M533.15 716.35L533.91 718.35L536.05 718.46L534.39 719.80L534.94 721.87L533.15 720.70L531.36 721.87L531.91 719.80L530.25 718.46L532.39 718.35ZM540.30 716.35L541.06 718.35L543.20 718.46L541.54 719.80L542.09 721.87L540.30 720.70L538.51 721.87L539.06 719.80L537.40 718.46L539.54 718.35ZM547.45 716.35L548.21 718.35L550.35 718.46L548.69 719.80L549.24 721.87L547.45 720.70L545.66 721.87L546.21 719.80L544.55 718.46L546.69 718.35Z" fill="#000" stroke="#000" stroke-width="0.25" stroke-linejoin="round"/>
<path d="M625.00 744.75L625.76 746.75L627.90 746.86L626.24 748.20L626.79 750.27L625.00 749.10L623.21 750.27L623.76 748.20L622.10 746.86L624.24 746.75Z" fill="#000" stroke="#000" stroke-width="0.25" stroke-linejoin="round"/>
<line x1="482.7" y1="799.9" x2="525.0" y2="799.9" stroke="#000" stroke-width="1.35"/>
<circle cx="503.50" cy="799.90" r="8.4" fill="#fff" stroke="#000" stroke-width="1.45"/>
<line x1="482.7" y1="822.8" x2="525.0" y2="822.8" stroke="#000" stroke-width="1.35"/>
<path d="M495.00 817.80H512.00L503.50 832.60Z" fill="#007800" stroke="#000" stroke-width="1.4" stroke-linejoin="miter"/>
<text x="534.30" y="806.90" font-size="18.2" text-anchor="start" font-weight="normal" fill="#000" >no glucose</text>
<text x="534.30" y="828.50" font-size="18.2" text-anchor="start" font-weight="normal" fill="#000" >glucose</text>
<text x="225.00" y="902.60" font-size="22" text-anchor="middle" font-weight="normal" fill="#000" >time (min)</text>
<text x="502.00" y="902.60" font-size="22" text-anchor="middle" font-weight="normal" fill="#000" >time (min)</text>
<text transform="translate(23.5 165.90) rotate(-90)" font-size="22" text-anchor="middle">ATP content</text>
<text transform="translate(48.0 165.90) rotate(-90)" font-size="22" text-anchor="middle">(nmol/mg)</text>
<text transform="translate(23.5 438.40) rotate(-90)" font-size="22" text-anchor="middle">ATP content</text>
<text transform="translate(48.0 438.40) rotate(-90)" font-size="22" text-anchor="middle">(nmol/mg)</text>
<text transform="translate(23.5 712.20) rotate(-90)" font-size="22" text-anchor="middle">ATP content</text>
<text transform="translate(48.0 712.20) rotate(-90)" font-size="22" text-anchor="middle">(nmol/mg)</text>
<text transform="translate(24.3 1044.5) rotate(-90)" font-size="22" text-anchor="middle">extracellular LDH activity</text>
<text transform="translate(48.5 1047.0) rotate(-90)" font-size="22" text-anchor="middle">(% of initial activity)</text>
<rect x="106.30" y="1172.10" width="28.20" height="4.60" fill="#fff" stroke="#000" stroke-width="1.4"/>
<rect x="141.50" y="1170.50" width="28.20" height="6.20" fill="#007800" stroke="#000" stroke-width="1.4"/>
<rect x="193.80" y="1155.90" width="28.20" height="20.80" fill="#fff" stroke="#000" stroke-width="1.4"/>
<rect x="228.50" y="1174.60" width="28.20" height="2.10" fill="#007800" stroke="#000" stroke-width="1.4"/>
<rect x="280.30" y="1152.80" width="28.20" height="23.90" fill="#fff" stroke="#000" stroke-width="1.4"/>
<rect x="315.30" y="1170.80" width="28.20" height="5.90" fill="#007800" stroke="#000" stroke-width="1.4"/>
<path d="M120.40 1172.10V1163.30" stroke="#000" stroke-width="1.45" fill="none"/>
<circle cx="120.40" cy="1162.00" r="3.65" fill="#000" stroke="#000" stroke-width="0.9"/>
<circle cx="120.40" cy="1169.00" r="3.65" fill="#000" stroke="#000" stroke-width="0.9"/>
<circle cx="120.40" cy="1175.60" r="3.65" fill="#000" stroke="#000" stroke-width="0.9"/>
<path d="M113.30 1163.30H127.50" stroke="#000" stroke-width="1.45" fill="none"/>
<path d="M155.60 1170.50V1166.10" stroke="#000" stroke-width="1.45" fill="none"/>
<circle cx="155.60" cy="1164.50" r="3.65" fill="#007800" stroke="#000" stroke-width="0.9"/>
<circle cx="155.60" cy="1170.20" r="3.65" fill="#007800" stroke="#000" stroke-width="0.9"/>
<path d="M148.50 1166.10H162.70" stroke="#000" stroke-width="1.45" fill="none"/>
<path d="M207.90 1155.90V1134.70" stroke="#000" stroke-width="1.45" fill="none"/>
<circle cx="207.90" cy="1131.60" r="3.65" fill="#000" stroke="#000" stroke-width="0.9"/>
<circle cx="207.90" cy="1154.80" r="3.65" fill="#000" stroke="#000" stroke-width="0.9"/>
<circle cx="207.90" cy="1168.70" r="3.65" fill="#000" stroke="#000" stroke-width="0.9"/>
<path d="M200.80 1134.70H215.00" stroke="#000" stroke-width="1.45" fill="none"/>
<path d="M242.60 1174.60V1167.10" stroke="#000" stroke-width="1.45" fill="none"/>
<circle cx="242.60" cy="1164.90" r="3.65" fill="#007800" stroke="#000" stroke-width="0.9"/>
<circle cx="242.60" cy="1173.80" r="3.65" fill="#007800" stroke="#000" stroke-width="0.9"/>
<path d="M235.50 1167.10H249.70" stroke="#000" stroke-width="1.45" fill="none"/>
<path d="M294.40 1152.80V1143.40" stroke="#000" stroke-width="1.45" fill="none"/>
<circle cx="294.40" cy="1140.40" r="3.65" fill="#000" stroke="#000" stroke-width="0.9"/>
<circle cx="294.40" cy="1151.50" r="3.65" fill="#000" stroke="#000" stroke-width="0.9"/>
<circle cx="294.40" cy="1154.50" r="3.65" fill="#000" stroke="#000" stroke-width="0.9"/>
<path d="M287.30 1143.40H301.50" stroke="#000" stroke-width="1.45" fill="none"/>
<path d="M329.40 1170.80V1162.80" stroke="#000" stroke-width="1.45" fill="none"/>
<circle cx="329.40" cy="1160.10" r="3.65" fill="#007800" stroke="#000" stroke-width="0.9"/>
<circle cx="329.40" cy="1169.60" r="3.65" fill="#007800" stroke="#000" stroke-width="0.9"/>
<path d="M322.30 1162.80H336.50" stroke="#000" stroke-width="1.45" fill="none"/>
<rect x="94.70" y="917.00" width="260.50" height="259.70" fill="none" stroke="#000" stroke-width="1.75"/>
<line x1="87.70" y1="1176.70" x2="94.70" y2="1176.70" stroke="#000" stroke-width="1.75"/>
<text x="78.20" y="1183.00" font-size="18" text-anchor="end" font-weight="normal" fill="#000" >0</text>
<line x1="87.70" y1="1127.28" x2="94.70" y2="1127.28" stroke="#000" stroke-width="1.75"/>
<text x="78.20" y="1133.58" font-size="18" text-anchor="end" font-weight="normal" fill="#000" >20</text>
<line x1="87.70" y1="1077.86" x2="94.70" y2="1077.86" stroke="#000" stroke-width="1.75"/>
<text x="78.20" y="1084.16" font-size="18" text-anchor="end" font-weight="normal" fill="#000" >40</text>
<line x1="87.70" y1="1028.44" x2="94.70" y2="1028.44" stroke="#000" stroke-width="1.75"/>
<text x="78.20" y="1034.74" font-size="18" text-anchor="end" font-weight="normal" fill="#000" >60</text>
<line x1="87.70" y1="979.02" x2="94.70" y2="979.02" stroke="#000" stroke-width="1.75"/>
<text x="78.20" y="985.32" font-size="18" text-anchor="end" font-weight="normal" fill="#000" >80</text>
<line x1="87.70" y1="929.60" x2="94.70" y2="929.60" stroke="#000" stroke-width="1.75"/>
<text x="78.20" y="935.90" font-size="18" text-anchor="end" font-weight="normal" fill="#000" >100</text>
<line x1="137.90" y1="1176.70" x2="137.90" y2="1183.70" stroke="#000" stroke-width="1.75"/>
<text x="137.90" y="1208.50" font-size="18.5" text-anchor="middle" font-weight="normal" fill="#000" >none</text>
<line x1="225.00" y1="1176.70" x2="225.00" y2="1183.70" stroke="#000" stroke-width="1.75"/>
<text x="225.00" y="1208.50" font-size="18.5" text-anchor="middle" font-weight="normal" fill="#000" >adenine</text>
<line x1="311.90" y1="1176.70" x2="311.90" y2="1183.70" stroke="#000" stroke-width="1.75"/>
<text x="311.90" y="1208.50" font-size="18.5" text-anchor="middle" font-weight="normal" fill="#000" >hypoxan.</text>
<text x="98.70" y="942.70" font-size="24" text-anchor="start" font-weight="bold" fill="#000" >g</text>
<text x="353.70" y="937.00" font-size="22" text-anchor="end" font-weight="normal" fill="#000" >360 min</text>
<rect x="382.20" y="1175.00" width="28.20" height="1.70" fill="#fff" stroke="#000" stroke-width="1.4"/>
<rect x="417.20" y="1173.70" width="28.20" height="3.00" fill="#007800" stroke="#000" stroke-width="1.4"/>
<rect x="469.40" y="1171.20" width="28.20" height="5.50" fill="#fff" stroke="#000" stroke-width="1.4"/>
<rect x="503.70" y="1171.50" width="28.20" height="5.20" fill="#007800" stroke="#000" stroke-width="1.4"/>
<rect x="555.90" y="1174.70" width="28.20" height="2.00" fill="#8c8c8c" stroke="#000" stroke-width="1.4"/>
<rect x="590.50" y="1170.80" width="28.20" height="5.90" fill="#007800" stroke="#000" stroke-width="1.4"/>
<path d="M396.30 1175.00V1169.70" stroke="#000" stroke-width="1.45" fill="none"/>
<circle cx="396.30" cy="1168.80" r="3.65" fill="#000" stroke="#000" stroke-width="0.9"/>
<circle cx="396.30" cy="1172.00" r="3.65" fill="#000" stroke="#000" stroke-width="0.9"/>
<circle cx="396.30" cy="1174.70" r="3.65" fill="#000" stroke="#000" stroke-width="0.9"/>
<path d="M389.20 1169.70H403.40" stroke="#000" stroke-width="1.45" fill="none"/>
<path d="M431.30 1173.70V1166.40" stroke="#000" stroke-width="1.45" fill="none"/>
<circle cx="431.30" cy="1167.00" r="3.65" fill="#007800" stroke="#000" stroke-width="0.9"/>
<circle cx="431.30" cy="1176.10" r="3.65" fill="#007800" stroke="#000" stroke-width="0.9"/>
<path d="M424.20 1166.40H438.40" stroke="#000" stroke-width="1.45" fill="none"/>
<path d="M483.50 1171.20V1164.50" stroke="#000" stroke-width="1.45" fill="none"/>
<circle cx="483.50" cy="1164.20" r="3.65" fill="#000" stroke="#000" stroke-width="0.9"/>
<circle cx="483.50" cy="1168.50" r="3.65" fill="#000" stroke="#000" stroke-width="0.9"/>
<circle cx="483.50" cy="1172.70" r="3.65" fill="#000" stroke="#000" stroke-width="0.9"/>
<path d="M476.40 1164.50H490.60" stroke="#000" stroke-width="1.45" fill="none"/>
<path d="M517.80 1171.50V1165.30" stroke="#000" stroke-width="1.45" fill="none"/>
<circle cx="517.80" cy="1165.30" r="3.65" fill="#007800" stroke="#000" stroke-width="0.9"/>
<circle cx="517.80" cy="1171.90" r="3.65" fill="#007800" stroke="#000" stroke-width="0.9"/>
<path d="M510.70 1165.30H524.90" stroke="#000" stroke-width="1.45" fill="none"/>
<path d="M570.00 1174.70V1168.20" stroke="#000" stroke-width="1.45" fill="none"/>
<circle cx="570.00" cy="1167.80" r="3.65" fill="#000" stroke="#000" stroke-width="0.9"/>
<circle cx="570.00" cy="1172.00" r="3.65" fill="#000" stroke="#000" stroke-width="0.9"/>
<circle cx="570.00" cy="1176.30" r="3.65" fill="#000" stroke="#000" stroke-width="0.9"/>
<path d="M562.90 1168.20H577.10" stroke="#000" stroke-width="1.45" fill="none"/>
<path d="M604.60 1170.80V1161.40" stroke="#000" stroke-width="1.45" fill="none"/>
<circle cx="604.60" cy="1160.90" r="3.65" fill="#007800" stroke="#000" stroke-width="0.9"/>
<circle cx="604.60" cy="1166.40" r="3.65" fill="#007800" stroke="#000" stroke-width="0.9"/>
<circle cx="604.60" cy="1176.20" r="3.65" fill="#007800" stroke="#000" stroke-width="0.9"/>
<path d="M597.50 1161.40H611.70" stroke="#000" stroke-width="1.45" fill="none"/>
<rect x="370.20" y="917.00" width="260.80" height="259.70" fill="none" stroke="#000" stroke-width="1.75"/>
<line x1="363.20" y1="1176.70" x2="370.20" y2="1176.70" stroke="#000" stroke-width="1.75"/>
<line x1="363.20" y1="1127.28" x2="370.20" y2="1127.28" stroke="#000" stroke-width="1.75"/>
<line x1="363.20" y1="1077.86" x2="370.20" y2="1077.86" stroke="#000" stroke-width="1.75"/>
<line x1="363.20" y1="1028.44" x2="370.20" y2="1028.44" stroke="#000" stroke-width="1.75"/>
<line x1="363.20" y1="979.02" x2="370.20" y2="979.02" stroke="#000" stroke-width="1.75"/>
<line x1="363.20" y1="929.60" x2="370.20" y2="929.60" stroke="#000" stroke-width="1.75"/>
<line x1="413.30" y1="1176.70" x2="413.30" y2="1183.70" stroke="#000" stroke-width="1.75"/>
<text x="413.30" y="1208.50" font-size="18.5" text-anchor="middle" font-weight="normal" fill="#000" >adenosine</text>
<line x1="500.10" y1="1176.70" x2="500.10" y2="1183.70" stroke="#000" stroke-width="1.75"/>
<text x="500.10" y="1208.50" font-size="18.5" text-anchor="middle" font-weight="normal" fill="#000" >inosine</text>
<line x1="587.40" y1="1176.70" x2="587.40" y2="1183.70" stroke="#000" stroke-width="1.75"/>
<text x="587.40" y="1208.50" font-size="18.5" text-anchor="middle" font-weight="normal" fill="#000" >guanosine</text>
<text x="375.20" y="942.70" font-size="24" text-anchor="start" font-weight="bold" fill="#000" >h</text>
<text x="629.50" y="938.70" font-size="22" text-anchor="end" font-weight="normal" fill="#000" >360 min</text>
<rect x="486.5" y="951.2" width="41.9" height="10.3" fill="#fff" stroke="#000" stroke-width="1.4"/>
<rect x="486.5" y="971.1" width="41.9" height="10.2" fill="#007800" stroke="#000" stroke-width="1.4"/>
<text x="538.60" y="962.20" font-size="18.2" text-anchor="start" font-weight="normal" fill="#000" >no glucose</text>
<text x="538.60" y="982.00" font-size="18.2" text-anchor="start" font-weight="normal" fill="#000" >glucose</text>
</svg></body></html>
